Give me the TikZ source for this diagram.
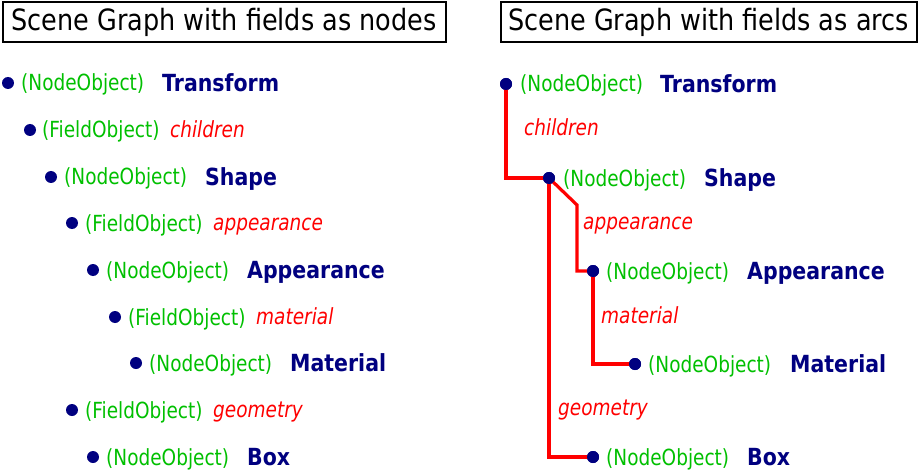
\documentclass[tikz,border=0pt]{standalone}
\usepackage{fontspec}
\setmainfont{DejaVu Sans}
\definecolor{navy}{RGB}{0,0,128}
\definecolor{lgreen}{RGB}{0,192,0}
\definecolor{fred}{RGB}{255,0,0}
\newcommand\tallA[1]{\scalebox{1}[1.2]{#1}}
\newcommand\tallB[1]{\scalebox{1}[1.15]{#1}}
\tikzset{
  dot/.style={circle,fill=navy,inner sep=0pt,minimum size=12pt},
  kind/.style={anchor=base west,inner sep=0pt,text=lgreen,font=\fontsize{18.5}{22}\selectfont},
  nname/.style={anchor=base west,inner sep=0pt,text=navy,font=\fontsize{20.5}{24}\selectfont\bfseries},
  fname/.style={anchor=base west,inner sep=0pt,text=fred,font=\fontsize{18.5}{22}\selectfont\itshape},
  titlebox/.style={draw,line width=2pt,inner sep=0pt,minimum height=40pt,font=\fontsize{25.5}{30}\selectfont},
  arcline/.style={draw=fred,line width=3.2pt}
}
\begin{document}
\begin{tikzpicture}[x=1pt,y=-1pt]
\useasboundingbox[fill=white] (0,0) rectangle (920,473);
% titles
\node[titlebox,minimum width=443pt] (t1) at (224,22.5) {\tallB{Scene Graph with fields as nodes}};
\node[titlebox,minimum width=416pt] (t2) at (708.5,22.5) {\tallB{Scene Graph with fields as arcs}};
% left tree
\node[dot] (L1) at (8,83) {};   \node[kind] (L1k) at (21,91) {\tallA{(NodeObject)}};  \node[nname] (L1n) at (162,91.5) {\tallB{Transform}};
\node[dot] (L2) at (30,130) {};  \node[kind] (L2k) at (42,138) {\tallA{(FieldObject)}}; \node[fname] (L2n) at (170,137.5) {\tallA{children}};
\node[dot] (L3) at (51,177) {};  \node[kind] (L3k) at (64,185) {\tallA{(NodeObject)}};  \node[nname] (L3n) at (205,185.5) {\tallB{Shape}};
\node[dot] (L4) at (72,223) {};  \node[kind] (L4k) at (85,231) {\tallA{(FieldObject)}}; \node[fname] (L4n) at (213,230.5) {\tallA{appearance}};
\node[dot] (L5) at (93,270) {};  \node[kind] (L5k) at (106,278) {\tallA{(NodeObject)}}; \node[nname] (L5n) at (247,278.5) {\tallB{Appearance}};
\node[dot] (L6) at (115,317) {}; \node[kind] (L6k) at (128,325) {\tallA{(FieldObject)}}; \node[fname] (L6n) at (256,324.5) {\tallA{material}};
\node[dot] (L7) at (136,363) {}; \node[kind] (L7k) at (149,371) {\tallA{(NodeObject)}}; \node[nname] (L7n) at (290,371.5) {\tallB{Material}};
\node[dot] (L8) at (72,410) {};  \node[kind] (L8k) at (85,418) {\tallA{(FieldObject)}}; \node[fname] (L8n) at (213,417.5) {\tallA{geometry}};
\node[dot] (L9) at (93,457) {};  \node[kind] (L9k) at (106,465) {\tallA{(NodeObject)}}; \node[nname] (L9n) at (247,465.5) {\tallB{Box}};
% right tree nodes
\node[dot] (R1) at (506,84) {};  \node[kind] (R1k) at (520,92) {\tallA{(NodeObject)}};  \node[nname] (R1n) at (660,92.5) {\tallB{Transform}};
\node[dot] (R3) at (549,178) {}; \node[kind] (R3k) at (563,186) {\tallA{(NodeObject)}};  \node[nname] (R3n) at (704,186.5) {\tallB{Shape}};
\node[dot] (R5) at (593,271) {}; \node[kind] (R5k) at (606,279) {\tallA{(NodeObject)}};  \node[nname] (R5n) at (747,279.5) {\tallB{Appearance}};
\node[dot] (R7) at (635,364) {}; \node[kind] (R7k) at (648,372) {\tallA{(NodeObject)}};  \node[nname] (R7n) at (790,372.5) {\tallB{Material}};
\node[dot] (R9) at (593,457) {}; \node[kind] (R9k) at (606,465) {\tallA{(NodeObject)}};  \node[nname] (R9n) at (747,465.5) {\tallB{Box}};
% arc labels
\node[fname] (R2) at (524,135.5) {\tallA{children}};
\node[fname] (R4) at (583,229.5) {\tallA{appearance}};
\node[fname] (R6) at (601,323.5) {\tallA{material}};
\node[fname] (R8) at (558,415.5) {\tallA{geometry}};
% arcs
\coordinate (k1) at (577,205);
\draw[arcline] (R1.center) |- (R3.center);
\draw[arcline] (R3.center) -- (k1) |- (R5.center);
\draw[arcline] (R5.center) |- (R7.center);
\draw[arcline] (R3.center) |- (R9.center);
% dots on top of the arcs
\foreach \n in {R1,R3,R5,R7,R9} \fill[navy] (\n.center) circle (6pt);
\end{tikzpicture}
\end{document}
